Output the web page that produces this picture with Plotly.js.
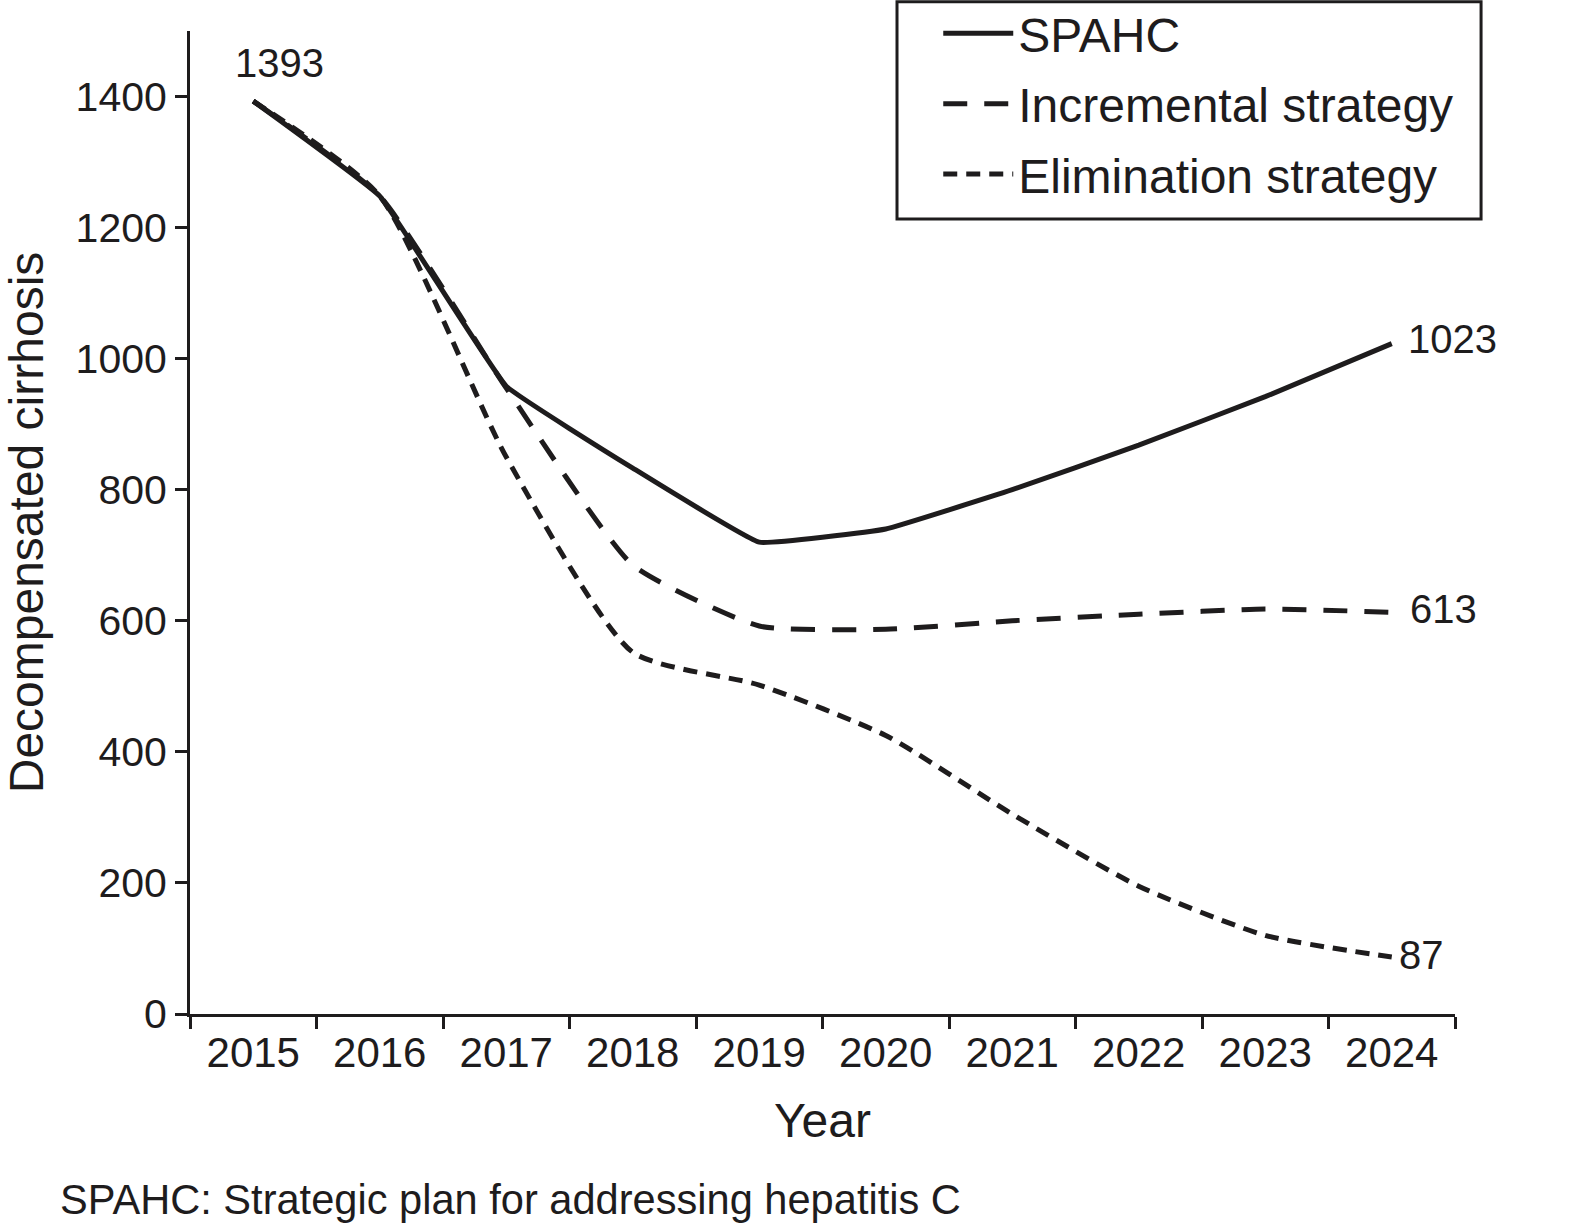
<!DOCTYPE html>
<html>
<head>
<meta charset="utf-8">
<script src="https://cdn.plot.ly/plotly-3.0.1.min.js"></script>
<style>html,body{margin:0;padding:0;background:#fff;}#chart{width:1578px;height:1232px;}</style>
</head>
<body>
<div id="chart"></div>
<script>
const years = ["2015","2016","2017","2018","2019","2020","2021","2022","2023","2024"];
const spahc = [1393, 1248, 958, 833, 720, 740, 800, 868, 942, 1023];
const incremental = [1393, 1248, 955, 685, 592, 587, 600, 610, 618, 613];
const elimination = [1393, 1248, 850, 552, 502, 425, 305, 195, 120, 87];
const seriesNames = ["SPAHC", "Incremental strategy", "Elimination strategy"];
const yTicks = [0, 200, 400, 600, 800, 1000, 1200, 1400];
const captionText = "SPAHC: Strategic plan for addressing hepatitis C";

const ink = "#1e1c1d";
const fam = "'Liberation Sans', Arial, Helvetica, sans-serif";

const traces = [
  {x: years, y: spahc, name: seriesNames[0], legendgroup: "a", mode: "lines",
   line: {color: ink, width: 5, shape: "spline", smoothing: 0.25}},
  {x: years, y: incremental, name: seriesNames[1], legendgroup: "b", mode: "lines",
   line: {color: ink, width: 5, dash: "24px,17px", shape: "spline", smoothing: 0.5}},
  {x: years, y: elimination, name: seriesNames[2], legendgroup: "c", mode: "lines",
   line: {color: ink, width: 5, dash: "14px,9px", shape: "spline", smoothing: 0.6}}
];

const last = years.length - 1;
const layout = {
  width: 1578, height: 1232,
  margin: {l: 190, r: 123, t: 31, b: 218, autoexpand: false},
  paper_bgcolor: "#fff", plot_bgcolor: "#fff",
  font: {family: fam, color: ink, size: 41},
  showlegend: true,
  legend: {
    x: 0.5915, y: 1.036, xanchor: "left", yanchor: "top",
    borderwidth: 0, bgcolor: "rgba(0,0,0,0)",
    font: {size: 48, family: fam, color: ink},
    itemwidth: 70, tracegroupgap: 5
  },
  shapes: [
    {type: "rect", xref: "paper", yref: "paper", x0: 0.5589, x1: 1.0206, y0: 0.8087, y1: 1.0298,
     line: {color: ink, width: 3}, fillcolor: "rgba(0,0,0,0)", layer: "below"}
  ],
  xaxis: {
    type: "category", range: [-0.5, 9.5],
    showline: true, linecolor: ink, linewidth: 3,
    ticks: "outside", tickson: "boundaries", ticklen: 12, tickwidth: 3, tickcolor: ink,
    showgrid: false, zeroline: false,
    tickfont: {size: 42, family: fam, color: ink},
    title: {text: "Year", font: {size: 48, family: fam, color: ink}, standoff: 28}
  },
  yaxis: {
    range: [0, 1500], tickvals: yTicks, ticktext: yTicks.map(String),
    showline: true, linecolor: ink, linewidth: 3,
    ticks: "outside", ticklen: 12, tickwidth: 3, tickcolor: ink,
    showgrid: false, zeroline: false,
    tickfont: {size: 41, family: fam, color: ink},
    title: {text: "Decompensated cirrhosis", font: {size: 48, family: fam, color: ink}, standoff: 22}
  },
  annotations: [
    {x: 0, y: spahc[0], text: String(spahc[0]), showarrow: false,
     xanchor: "center", yanchor: "middle", xshift: 26, yshift: 38, font: {size: 40}},
    {x: last, y: spahc[last], text: String(spahc[last]), showarrow: false,
     xanchor: "left", yanchor: "middle", xshift: 14, yshift: 5, font: {size: 40}},
    {x: last, y: incremental[last], text: String(incremental[last]), showarrow: false,
     xanchor: "left", yanchor: "middle", xshift: 16, yshift: 3, font: {size: 40}},
    {x: last, y: elimination[last], text: String(elimination[last]), showarrow: false,
     xanchor: "left", yanchor: "middle", xshift: 5, yshift: 2, font: {size: 40}},
    {xref: "paper", yref: "paper", x: -0.104, y: -0.189, text: captionText, showarrow: false,
     xanchor: "left", yanchor: "middle", font: {size: 41.6}}
  ]
};

Plotly.newPlot("chart", traces, layout, {staticPlot: true, displayModeBar: false});
</script>
</body>
</html>
